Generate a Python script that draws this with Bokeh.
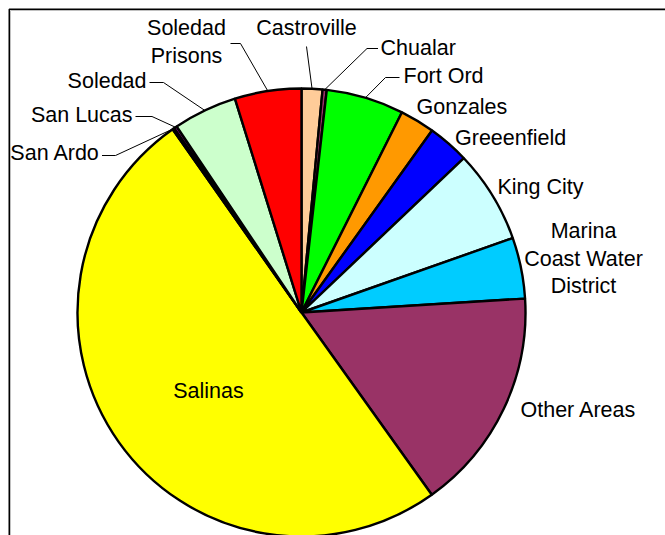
import math
from bokeh.plotting import figure
from bokeh.models import Range1d, ColumnDataSource
from bokeh.core.properties import value
from bokeh.embed import file_html
from bokeh.resources import INLINE

# ---- data (share of total, percent) ----
categories = ["Castroville", "Chualar", "Fort Ord", "Gonzales", "Greeenfield",
              "King City", "Marina Coast Water District", "Other Areas", "Salinas",
              "San Ardo", "San Lucas", "Soledad", "Soledad Prisons"]
shares = [1.5, 0.3, 5.6, 2.5, 3.0, 6.7, 4.4, 16.1, 50.1, 0.15, 0.2, 4.6, 4.8]
colors = ["#FFCC99", "#993366", "#00FF00", "#FF9900", "#0000FF", "#CCFFFF",
          "#00CCFF", "#993366", "#FFFF00", "#800080", "#FF00FF", "#CCFFCC", "#FF0000"]

# ---- layout (page pixel coordinates) ----
W, H = 665, 535
def X(px): return px
def Y(py): return H - py

CX, CY, R = X(301), Y(312), 224
FONT = value("Liberation Sans")
FS = "21.5px"
LINE_GAP = 27.5
TEXT_SHIFT = 7.8

# label: (lines, anchor x, first baseline y, align)
label_layout = {
    "Castroville": (["Castroville"], 306, 35, "center"),
    "Chualar": (["Chualar"], 380, 55, "left"),
    "Fort Ord": (["Fort Ord"], 403, 83.5, "left"),
    "Gonzales": (["Gonzales"], 416, 114, "left"),
    "Greeenfield": (["Greeenfield"], 454.5, 145, "left"),
    "King City": (["King City"], 497, 194, "left"),
    "Marina Coast Water District": (["Marina", "Coast Water", "District"], 583, 238.5, "center"),
    "Other Areas": (["Other Areas"], 520, 417.5, "left"),
    "Salinas": (["Salinas"], 208, 398.5, "center"),
    "San Ardo": (["San Ardo"], 99.5, 160, "right"),
    "San Lucas": (["San Lucas"], 132, 122.5, "right"),
    "Soledad": (["Soledad"], 146, 88.5, "right"),
    "Soledad Prisons": (["Soledad", "Prisons"], 186, 35.5, "center"),
}
# leader lines: (elbow, end) in page pixels
leader_layout = {
    "Castroville": ((306, 46), (306, 46)),
    "Chualar": ((366.5, 48), (377.5, 48)),
    "Fort Ord": ((385, 77), (399, 77)),
    "Soledad Prisons": ((240, 43), (230, 43)),
    "Soledad": ((163, 82), (149, 82)),
    "San Lucas": ((151.5, 116), (135, 116)),
    "San Ardo": ((115, 155), (101.5, 155)),
}

total = sum(shares)
starts, ends, mids = [], [], []
cum = 0.0
for s in shares:
    a0 = cum / total
    cum += s
    a1 = cum / total
    # clockwise from 12 o'clock -> bokeh angles (anticlockwise from +x)
    starts.append(math.pi / 2 - 2 * math.pi * a1)
    ends.append(math.pi / 2 - 2 * math.pi * a0)
    mids.append(2 * math.pi * (a0 + a1) / 2)

p = figure(width=W, height=H, x_range=Range1d(0, W), y_range=Range1d(0, H),
           x_axis_type=None, y_axis_type=None, toolbar_location=None,
           output_backend="svg", min_border=0, outline_line_color=None,
           background_fill_color="white", border_fill_color="white")
p.grid.visible = False

src = ColumnDataSource(dict(cat=categories, start=starts, end=ends, color=colors,
                            x=[CX] * len(categories), y=[CY] * len(categories)))
p.wedge(x="x", y="y", radius=R, start_angle="start", end_angle="end",
        direction="anticlock", fill_color="color", line_color="black",
        line_width=2.4, source=src)

# leader lines
xs, ys = [], []
for i, c in enumerate(categories):
    if c in leader_layout:
        th = mids[i]
        rx, ry = CX + R * math.sin(th), CY + R * math.cos(th)
        (ex, ey), (lx, ly) = leader_layout[c]
        xs.append([rx, X(ex), X(lx)])
        ys.append([ry, Y(ey), Y(ly)])
p.multi_line(xs=xs, ys=ys, line_color="black", line_width=1)

# labels
tx, ty, tt, ta = [], [], [], []
for c in categories:
    lines, ax, by, al = label_layout[c]
    for k, ln in enumerate(lines):
        tx.append(X(ax))
        ty.append(Y(by + k * LINE_GAP - TEXT_SHIFT))
        tt.append(ln)
        ta.append(al)
p.text(x=tx, y=ty, text=tt, text_align=ta, text_baseline="alphabetic",
       text_font=FONT, text_font_size=FS, text_color="black")

# chart frame (top and left edges visible)
p.line(x=[X(8.75), X(8.75), X(W)], y=[Y(H), Y(8.75), Y(8.75)],
       line_color="black", line_width=1.5)
p.line(x=[X(10), X(10), X(W)], y=[Y(H), Y(10), Y(10)],
       line_color="#C0C0C0", line_width=1)

open("out.html", "w").write(file_html(p, INLINE))
